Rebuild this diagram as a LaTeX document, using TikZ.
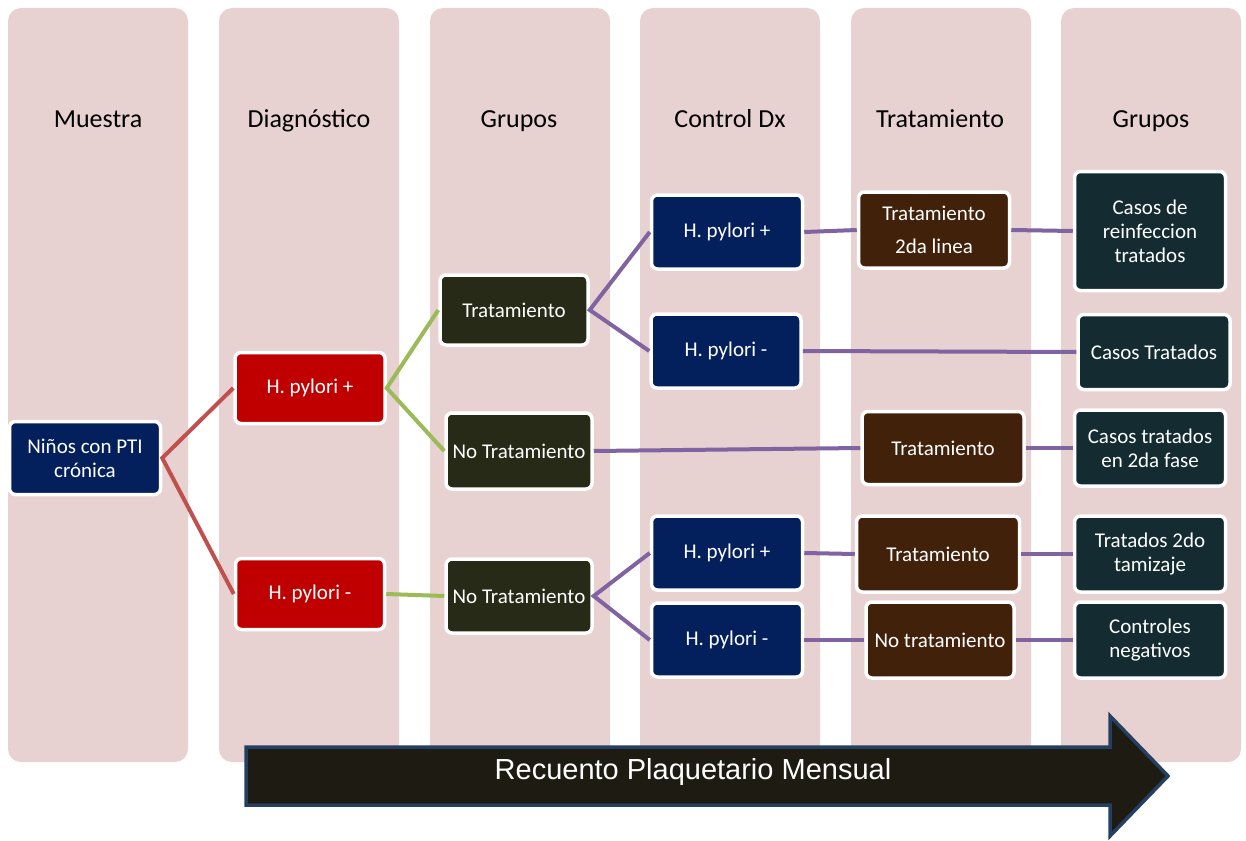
\documentclass[tikz,border=0pt]{standalone}
\usepackage{fontspec}
\setmainfont{Carlito}
\newfontfamily\arrowfont{Liberation Sans}
\definecolor{colpink}{HTML}{E8D1D1}
\definecolor{navyc}{HTML}{03205C}
\definecolor{redc}{HTML}{C00000}
\definecolor{olivec}{HTML}{262A17}
\definecolor{brownc}{HTML}{42210B}
\definecolor{tealc}{HTML}{132B31}
\definecolor{redline}{HTML}{C0504D}
\definecolor{greenline}{HTML}{9BBB59}
\definecolor{purpline}{HTML}{8064A2}
\definecolor{arrowfill}{HTML}{1E1B12}
\definecolor{arrowedge}{HTML}{243F60}
\tikzset{
  column/.style={fill=colpink, rounded corners=13, draw=none},
  coltitle/.style={font=\fontsize{26}{30}\selectfont, text=black, anchor=base},
  box/.style={rounded corners=6, draw=white, line width=3.5, text=white, align=center,
    font=\fontsize{21}{24}\selectfont, inner sep=2},
  navybox/.style={box, fill=navyc},
  redbox/.style={box, fill=redc},
  olivebox/.style={box, fill=olivec},
  brownbox/.style={box, fill=brownc},
  tealbox/.style={box, fill=tealc},
  redlink/.style={draw=redline, line width=4},
  greenlink/.style={draw=greenline, line width=4},
  purplink/.style={draw=purpline, line width=4},
}
\begin{document}
\begin{tikzpicture}[x=1pt,y=-1pt]
\useasboundingbox (0,0) rectangle (1246,840);
% columns
\foreach \i/\xl in {1/8,2/219,3/430,4/640,5/851,6/1061}{
  \path[column] (\xl,8) rectangle ++(180,754);
}
\node[coltitle] (t1) at (98,128) {Muestra};
\node[coltitle] (t2) at (309,128) {Diagnóstico};
\node[coltitle] (t3) at (519,128) {Grupos};
\node[coltitle] (t4) at (730,128) {Control Dx};
\node[coltitle] (t5) at (940,128) {Tratamiento};
\node[coltitle] (t6) at (1151,128) {Grupos};

% nodes
\node[navybox, minimum width=151, minimum height=73] (ninos) at (85,458) {Niños con PTI\\crónica};
\node[redbox, minimum width=150, minimum height=71] (hp) at (310,388) {H. pylori +};
\node[redbox, minimum width=149, minimum height=71] (hn) at (310,594) {H. pylori -};
\node[olivebox, minimum width=148, minimum height=70] (trat) at (514,310) {Tratamiento};
\node[olivebox, minimum width=146, minimum height=76] (notrat1) at (519,451) {No Tratamiento};
\node[olivebox, minimum width=146, minimum height=74] (notrat2) at (519,596) {No Tratamiento};
\node[navybox, minimum width=151, minimum height=74] (hp1) at (727,232) {H. pylori +};
\node[navybox, minimum width=150, minimum height=74] (hn1) at (726,351) {H. pylori -};
\node[navybox, minimum width=151, minimum height=74] (hp2) at (727,553) {H. pylori +};
\node[navybox, minimum width=151, minimum height=74] (hn2) at (727,640) {H. pylori -};
\node[brownbox, minimum width=151, minimum height=76] (tr2) at (934,230) {Tratamiento\\[9pt]2da linea};
\node[brownbox, minimum width=162, minimum height=73] (tr3) at (943,448) {Tratamiento};
\node[brownbox, minimum width=163, minimum height=76] (tr4) at (938,554) {Tratamiento};
\node[brownbox, minimum width=148, minimum height=76] (ntr) at (940,640) {No tratamiento};
\node[tealbox, minimum width=151, minimum height=119] (g1) at (1150,231) {Casos de\\reinfeccion\\tratados};
\node[tealbox, minimum width=152, minimum height=75] (g2) at (1154,352) {Casos Tratados};
\node[tealbox, minimum width=151, minimum height=76] (g3) at (1150,448) {Casos tratados\\en 2da fase};
\node[tealbox, minimum width=151, minimum height=76] (g4) at (1150,554) {Tratados 2do\\tamizaje};
\node[tealbox, minimum width=151, minimum height=76] (g5) at (1150,640) {Controles\\negativos};

% connectors
\draw[redlink] (hp.west) -- (ninos.east) -- (hn.west);
\draw[greenlink] (trat.west) -- (hp.east) -- (notrat1.west);
\draw[greenlink] (hn.east) -- (notrat2.west);
\draw[purplink] (hp1.west) -- (trat.east) -- (hn1.west);
\draw[purplink] (hp2.west) -- (notrat2.east) -- (hn2.west);
\draw[purplink] (hp1.east) -- (tr2.west);
\draw[purplink] (tr2.east) -- (g1.west);
\draw[purplink] (hn1.east) -- (g2.west);
\draw[purplink] (notrat1.east) -- (tr3.west);
\draw[purplink] (tr3.east) -- (g3.west);
\draw[purplink] (hp2.east) -- (tr4.west);
\draw[purplink] (tr4.east) -- (g4.west);
\draw[purplink] (hn2.east) -- (ntr.west);
\draw[purplink] (ntr.east) -- (g5.west);

% big arrow
\draw[fill=arrowfill, draw=arrowedge, line width=3.5, line join=miter]
  (246,747) -- (1110,747) -- (1110,716) -- (1168,776) -- (1110,836) -- (1110,805) -- (246,805) -- cycle;
\node[text=white, font=\arrowfont\fontsize{29}{33}\selectfont] (arrowtxt) at (693,772) {Recuento Plaquetario Mensual};
\end{tikzpicture}
\end{document}
